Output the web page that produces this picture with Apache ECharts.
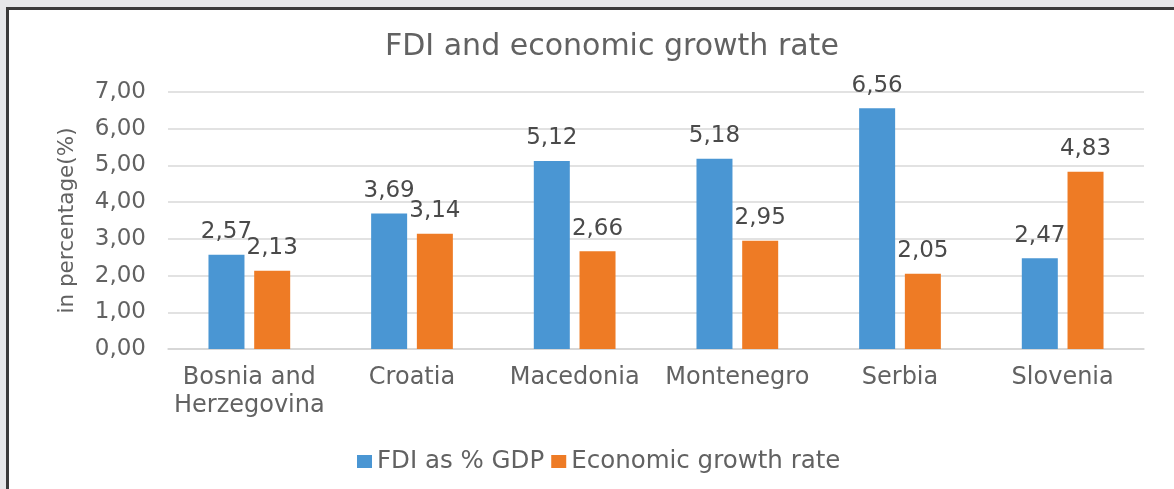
<!DOCTYPE html>
<html>
<head>
<meta charset="utf-8">
<script src="https://cdn.jsdelivr.net/npm/echarts@6/dist/echarts.min.js"></script>
<style>
  html, body { margin: 0; padding: 0; background: #e6e7e9; overflow: hidden; }
  #frame { position: absolute; left: 6px; top: 7px; width: 1200px; height: 520px;
           border-left: 3px solid #3a3a3a; border-top: 3px solid #3a3a3a; background: #fff; }
  #chart { position: absolute; left: 0; top: 0; width: 1174px; height: 489px; }
</style>
</head>
<body>
<div id="frame"></div>
<div id="chart"></div>
<script>
var countries = ['Bosnia and\nHerzegovina', 'Croatia', 'Macedonia', 'Montenegro', 'Serbia', 'Slovenia'];
var fdiShare = [2.57, 3.69, 5.12, 5.18, 6.56, 2.47];
var growthRate = [2.13, 3.14, 2.66, 2.95, 2.05, 4.83];
var seriesNames = ['FDI as % GDP', 'Economic growth rate'];

function comma(v) { return Number(v).toFixed(2).replace('.', ','); }

var font = 'DejaVu Sans';
var chart = echarts.init(document.getElementById('chart'));
var option = {
    animation: false,
    title: {
        text: 'FDI and economic growth rate',
        left: 380,
        top: 27,
        textStyle: { fontFamily: font, fontSize: 30, fontWeight: 'normal', color: '#626262' }
    },
    legend: {
        data: seriesNames,
        left: 352,
        top: 444,
        itemWidth: 15,
        itemHeight: 13,
        itemGap: 7,
        icon: 'rect',
        textStyle: { fontFamily: font, fontSize: 24.5, color: '#626262' }
    },
    grid: { left: 168, right: 30, top: 92, bottom: 140 },
    xAxis: {
        type: 'category',
        data: countries,
        axisTick: { show: false },
        axisLine: { lineStyle: { color: '#d4d4d4', width: 1.5 } },
        axisLabel: { fontFamily: font, fontSize: 24, color: '#626262', margin: 15, lineHeight: 28, interval: 0 }
    },
    yAxis: {
        type: 'value',
        min: 0,
        max: 7,
        interval: 1,
        name: 'in percentage(%)',
        nameLocation: 'middle',
        nameGap: 90,
        nameTextStyle: { fontFamily: font, fontSize: 21.5, color: '#626262' },
        axisLabel: { fontFamily: font, fontSize: 23, color: '#626262', margin: 22, formatter: comma },
        splitLine: { lineStyle: { color: '#d9d9d9', width: 1.5 } }
    },
    series: [
        {
            name: seriesNames[0],
            type: 'bar',
            data: fdiShare,
            barWidth: 36,
            barGap: '27%',
            itemStyle: { color: '#4a96d3' },
            label: { show: true, position: 'top', distance: 11, fontFamily: font, fontSize: 23, color: '#4a4a4a',
                     formatter: function (p) { return comma(p.value); } }
        },
        {
            name: seriesNames[1],
            type: 'bar',
            data: growthRate,
            barWidth: 36,
            itemStyle: { color: '#ee7b25' },
            label: { show: true, position: 'top', distance: 11, fontFamily: font, fontSize: 23, color: '#4a4a4a',
                     formatter: function (p) { return comma(p.value); } }
        }
    ]
};
chart.setOption(option);
</script>
</body>
</html>
